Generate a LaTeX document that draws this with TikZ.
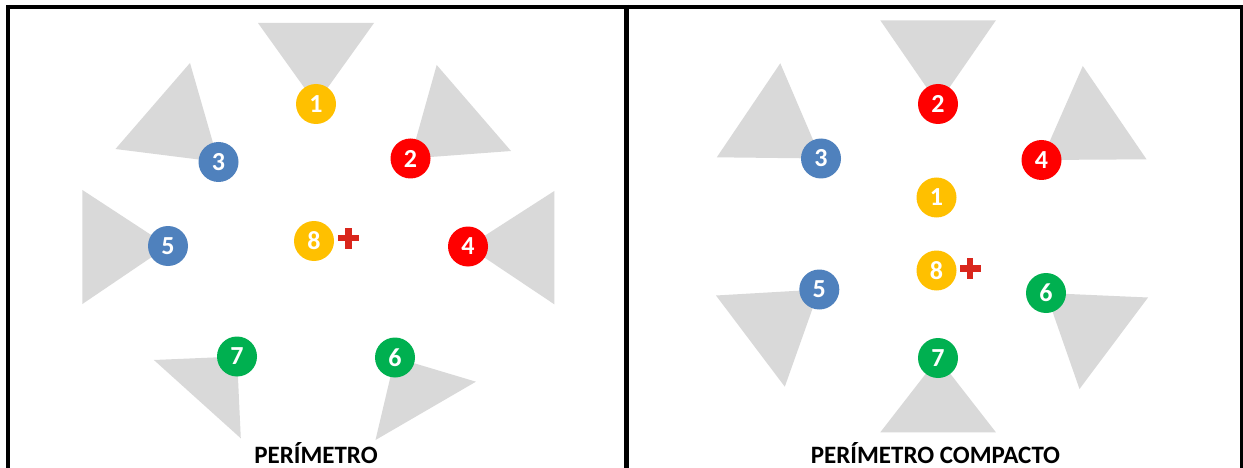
\documentclass[tikz,border=0pt]{standalone}
\usepackage{fontspec}
\setmainfont{Carlito}
\definecolor{cyellow}{HTML}{FFC000}
\definecolor{cred}{HTML}{FF0000}
\definecolor{cblue}{HTML}{4F81BD}
\definecolor{cgreen}{HTML}{00B050}
\definecolor{tgray}{HTML}{D9D9D9}
\definecolor{crossred}{HTML}{D9261C}
\tikzset{
  pt/.style={circle, minimum size=40pt, inner sep=0pt, text=white, font=\fontsize{26}{26}\selectfont\bfseries},
  yel/.style={pt, fill=cyellow},
  rd/.style={pt, fill=cred},
  bl/.style={pt, fill=cblue},
  gr/.style={pt, fill=cgreen},
  tri/.style={fill=tgray},
  frame/.style={line width=4.5pt, black},
  title/.style={anchor=base, font=\fontsize{25}{25}\selectfont\bfseries, text=black, inner sep=0pt},
  crossbar/.style={fill=crossred}
}
\newcommand{\redcross}[2]{%
  \fill[crossbar] (#1-10.5,#2-3.4) rectangle (#1+10.5,#2+3.4);
  \fill[crossbar] (#1-3.4,#2-10.5) rectangle (#1+3.4,#2+10.5);}
\begin{document}
\begin{tikzpicture}[x=1pt,y=-1pt]
\useasboundingbox (0,0) rectangle (1243,468);
\clip (0,0) rectangle (1243,468);
\fill[white] (0,0) rectangle (1243,468);
% frame
\draw[frame] (8,7) -- (1242,7);
\draw[frame] (8,5) -- (8,480);
\draw[frame] (626.5,5) -- (626.5,480);
\draw[frame] (1242,5) -- (1242,480);

% ---------- left panel ----------
\coordinate (L1) at (316,104);
\coordinate (L2) at (410.5,158.5);
\coordinate (L3) at (218.5,162);
\coordinate (L4) at (468,246.5);
\coordinate (L5) at (168,246);
\coordinate (L6) at (395,357.5);
\coordinate (L7) at (237,356.5);
\coordinate (L8) at (314,241);
\fill[tri] (L1) -- (258,23) -- (374,23) -- cycle;
\fill[tri] (L3) -- (190,63) -- (115.5,149) -- cycle;
\fill[tri] (L2) -- (436.7,65) -- (511,151) -- cycle;
\fill[tri] (L5) -- (82.4,190) -- (82.4,304) -- cycle;
\fill[tri] (L4) -- (554.3,191) -- (554.3,304.3) -- cycle;
\fill[tri] (L7) -- (153.9,360) -- (240.8,438.3) -- cycle;
\fill[tri] (L6) -- (475.9,381.7) -- (375.5,440) -- cycle;
\node[yel] (l1) at (L1) {1};
\node[rd]  (l2) at (L2) {2};
\node[bl]  (l3) at (L3) {3};
\node[rd]  (l4) at (L4) {4};
\node[bl]  (l5) at (L5) {5};
\node[gr]  (l6) at (L6) {6};
\node[gr]  (l7) at (L7) {7};
\node[yel] (l8) at (L8) {8};
\redcross{348.7}{238}
\node[title] (ltitle) at (316,463.3) {PERÍMETRO};

% ---------- right panel ----------
\coordinate (R1) at (936.5,197.5);
\coordinate (R2) at (938,104);
\coordinate (R3) at (821,158.5);
\coordinate (R4) at (1041.5,160);
\coordinate (R5) at (819.3,289.5);
\coordinate (R6) at (1046,293);
\coordinate (R7) at (938,358);
\coordinate (R8) at (936.5,270.5);
\fill[tri] (R2) -- (880.3,20.3) -- (995.9,20.3) -- cycle;
\fill[tri] (R3) -- (780.3,63.3) -- (716.8,157.3) -- cycle;
\fill[tri] (R4) -- (1082.8,66) -- (1146.5,159.3) -- cycle;
\fill[tri] (R5) -- (716,295.5) -- (784.8,386.7) -- cycle;
\fill[tri] (R6) -- (1148,297.5) -- (1079.5,389) -- cycle;
\fill[tri] (R7) -- (880.3,432.3) -- (995.9,432.3) -- cycle;
\node[yel] (r1) at (R1) {1};
\node[rd]  (r2) at (R2) {2};
\node[bl]  (r3) at (R3) {3};
\node[rd]  (r4) at (R4) {4};
\node[bl]  (r5) at (R5) {5};
\node[gr]  (r6) at (R6) {6};
\node[gr]  (r7) at (R7) {7};
\node[yel] (r8) at (R8) {8};
\redcross{970}{268.2}
\node[title] (rtitle) at (935.5,463.3) {PERÍMETRO COMPACTO};
\end{tikzpicture}
\end{document}
